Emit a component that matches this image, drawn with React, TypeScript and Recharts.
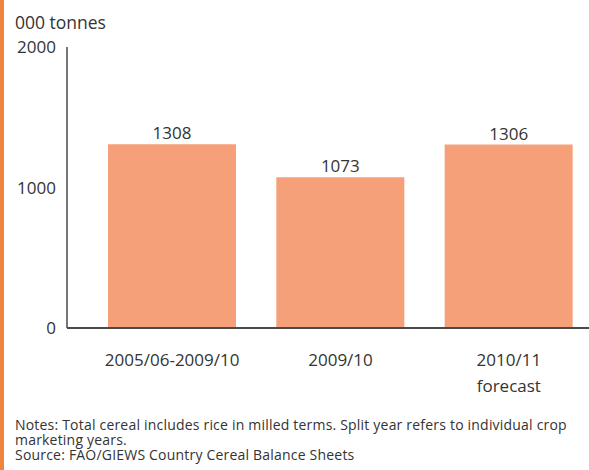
import React from "react";
import { BarChart, Bar, XAxis, YAxis, LabelList } from "recharts";

const categories = ["2005/06-2009/10", "2009/10", "2010/11\nforecast"];
const values = [1308, 1073, 1306];
const yTicks = [0, 1000, 2000];
const unitLabel = "000 tonnes";
const notes = [
  "Notes: Total cereal includes rice in milled terms. Split year refers to individual crop",
  "marketing years.",
  "Source: FAO/GIEWS Country Cereal Balance Sheets",
];

const data = categories.map((c, i) => ({ name: c, value: values[i] }));

const FONT = "'Open Sans', 'Noto Sans', sans-serif";
const TEXT = "#333333";
const BAR = "#F5A079";
const AXIS = "#4a4a4a";

const XTick = (props: any) => {
  const { x, y, payload } = props;
  const lines = String(payload.value).split("\n");
  return (
    <g>
      {lines.map((l: string, i: number) => (
        <text
          key={i}
          x={x}
          y={y + 30 + i * 26}
          textAnchor="middle"
          fill={TEXT}
          fontSize={17}
          fontFamily={FONT}
        >
          {l}
        </text>
      ))}
    </g>
  );
};

export default function App() {
  return (
    <div
      style={{
        position: "absolute",
        left: 0,
        top: 0,
        width: 589,
        height: 470,
        overflow: "hidden",
        background: "#ffffff",
        fontFamily: FONT,
      }}
    >
      <div
        style={{
          position: "absolute",
          left: 0,
          top: 0,
          width: 4,
          height: 470,
          background: "#F0843F",
        }}
      />
      <div
        style={{
          position: "absolute",
          left: 15,
          top: 12,
          fontSize: 17.5,
          color: TEXT,
          lineHeight: "20px",
          whiteSpace: "nowrap",
        }}
      >
        {unitLabel}
      </div>
      <div style={{ position: "absolute", left: 0, top: 0 }}>
        <BarChart
          width={600}
          height={400}
          data={data}
          margin={{ top: 47, right: 0, bottom: 32, left: 0 }}
        >
          <XAxis
            dataKey="name"
            height={40}
            interval={0}
            padding={{ left: 21, right: 7 }}
            axisLine={{ stroke: AXIS, strokeWidth: 2 }}
            tickLine={false}
            tick={<XTick />}
          />
          <YAxis
            width={67}
            domain={[0, 2000]}
            ticks={yTicks}
            axisLine={{ stroke: AXIS, strokeWidth: 1.5 }}
            tickLine={false}
            tickMargin={5}
            tick={{ fill: TEXT, fontSize: 17, fontFamily: FONT }}
          />
          <Bar dataKey="value" fill={BAR} barSize={128} isAnimationActive={false}>
            <LabelList
              dataKey="value"
              position="top"
              offset={5}
              fill={TEXT}
              fontSize={17}
              fontFamily={FONT}
            />
          </Bar>
        </BarChart>
      </div>
      <div
        style={{
          position: "absolute",
          left: 15,
          top: 417,
          fontSize: 14,
          lineHeight: "15px",
          letterSpacing: "0.2px",
          color: TEXT,
          whiteSpace: "nowrap",
        }}
      >
        {notes.map((n, i) => (
          <div key={i}>{n}</div>
        ))}
      </div>
    </div>
  );
}
